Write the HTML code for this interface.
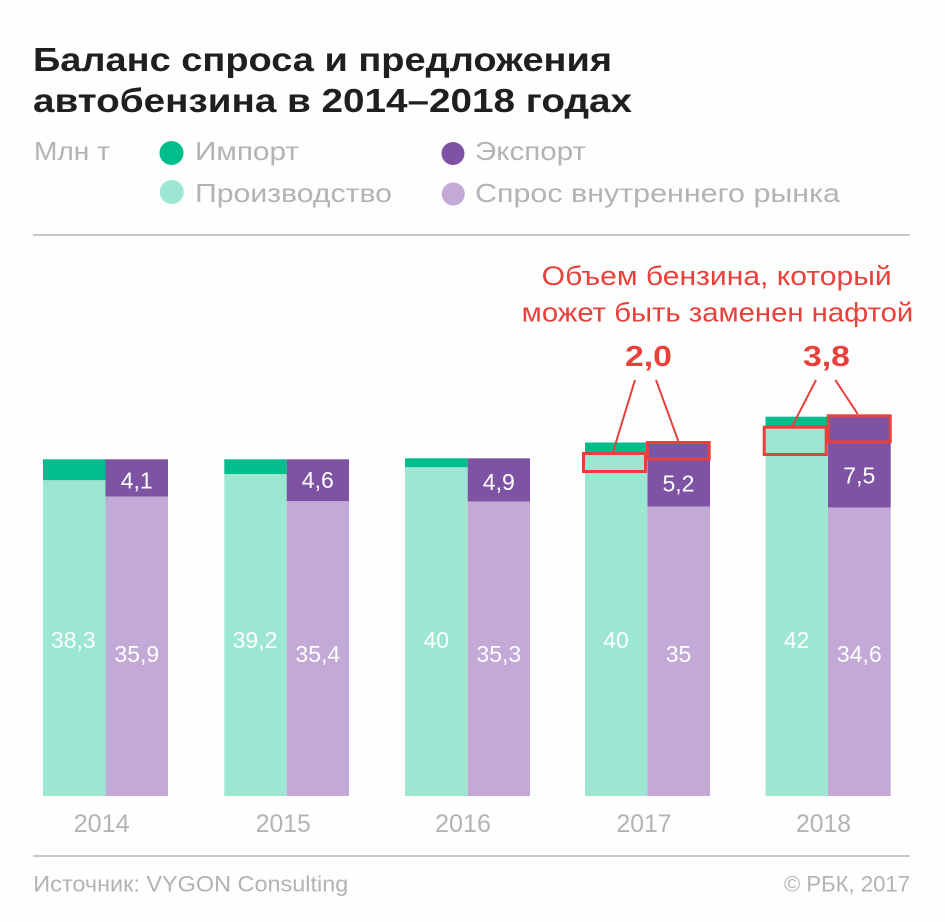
<!DOCTYPE html>
<html>
<head>
<meta charset="utf-8">
<style>
  html,body{margin:0;padding:0;background:#fefefe;}
  svg{display:block;}
  text{font-family:"Liberation Sans","Noto Sans CJK SC",sans-serif;}
</style>
</head>
<body>
<svg width="945" height="922" viewBox="0 0 945 922" xmlns="http://www.w3.org/2000/svg">
  <rect x="0" y="0" width="945" height="922" fill="#fefefe"/>

  <!-- Title -->
  <text x="33" y="71" font-size="33" font-weight="bold" fill="#1f1f1f" textLength="579" lengthAdjust="spacingAndGlyphs">Баланс спроса и предложения</text>
  <text x="33" y="112" font-size="33" font-weight="bold" fill="#1f1f1f" textLength="599" lengthAdjust="spacingAndGlyphs">автобензина в 2014–2018 годах</text>

  <!-- Legend -->
  <g font-size="26" fill="#b3b3b3">
    <text x="34" y="160" textLength="76" lengthAdjust="spacingAndGlyphs">Млн т</text>
    <circle cx="171.5" cy="153" r="12" fill="#00be8b"/>
    <text x="195" y="160" textLength="104" lengthAdjust="spacingAndGlyphs">Импорт</text>
    <circle cx="453" cy="153.5" r="11.5" fill="#7f53a4"/>
    <text x="475" y="160" textLength="111" lengthAdjust="spacingAndGlyphs">Экспорт</text>
    <circle cx="171.8" cy="192" r="12" fill="#9ce6d2"/>
    <text x="195" y="202" textLength="197" lengthAdjust="spacingAndGlyphs">Производство</text>
    <circle cx="453.3" cy="194" r="11.5" fill="#c2a9d6"/>
    <text x="475" y="202" textLength="365" lengthAdjust="spacingAndGlyphs">Спрос внутреннего рынка</text>
  </g>

  <rect x="33" y="234" width="877" height="2" fill="#c8c8c8"/>

  <!-- Annotation -->
  <text x="541.7" y="285" font-size="27" fill="#e8413c" textLength="350" lengthAdjust="spacingAndGlyphs">Объем бензина, который</text>
  <text x="521.7" y="321.7" font-size="27" fill="#e8413c" textLength="391.6" lengthAdjust="spacingAndGlyphs">может быть заменен нафтой</text>
  <text x="625" y="366" font-size="29" font-weight="bold" fill="#e8413c" textLength="47" lengthAdjust="spacingAndGlyphs">2,0</text>
  <text x="803" y="366" font-size="29" font-weight="bold" fill="#e8413c" textLength="47" lengthAdjust="spacingAndGlyphs">3,8</text>

  <!-- Bars 2014 -->
  <rect x="43" y="459.3" width="62.5" height="21" fill="#00be8b"/>
  <rect x="43" y="480.3" width="62.5" height="315.7" fill="#9ce6d2"/>
  <rect x="105.5" y="459.3" width="62.5" height="37.4" fill="#7f53a4"/>
  <rect x="105.5" y="496.7" width="62.5" height="299.3" fill="#c2a9d6"/>

  <!-- Bars 2015 -->
  <rect x="224.3" y="459.3" width="62.4" height="14.7" fill="#00be8b"/>
  <rect x="224.3" y="474" width="62.4" height="322" fill="#9ce6d2"/>
  <rect x="286.7" y="459.3" width="62.3" height="42" fill="#7f53a4"/>
  <rect x="286.7" y="501.3" width="62.3" height="294.7" fill="#c2a9d6"/>

  <!-- Bars 2016 -->
  <rect x="405" y="458.3" width="62.7" height="9" fill="#00be8b"/>
  <rect x="405" y="467.3" width="62.7" height="328.7" fill="#9ce6d2"/>
  <rect x="467.7" y="458.3" width="62.3" height="43.4" fill="#7f53a4"/>
  <rect x="467.7" y="501.7" width="62.3" height="294.3" fill="#c2a9d6"/>

  <!-- Bars 2017 -->
  <rect x="585" y="442.5" width="62.5" height="11" fill="#00be8b"/>
  <rect x="585" y="453.5" width="62.5" height="342.5" fill="#9ce6d2"/>
  <rect x="647.5" y="442.5" width="62.5" height="64" fill="#7f53a4"/>
  <rect x="647.5" y="506.5" width="62.5" height="289.5" fill="#c2a9d6"/>

  <!-- Bars 2018 -->
  <rect x="765.5" y="416.7" width="62.5" height="11" fill="#00be8b"/>
  <rect x="765.5" y="427.7" width="62.5" height="368.3" fill="#9ce6d2"/>
  <rect x="828" y="416" width="62.7" height="91.7" fill="#7f53a4"/>
  <rect x="828" y="507.7" width="62.7" height="288.3" fill="#c2a9d6"/>

  <!-- Red highlight boxes -->
  <g fill="none" stroke="#e8413c" stroke-width="3">
    <rect x="583.5" y="453.5" width="62" height="18"/>
    <rect x="647.5" y="442.5" width="61.7" height="16.7"/>
    <rect x="764.2" y="427.2" width="62" height="27.3"/>
    <rect x="828.2" y="415.8" width="62" height="26"/>
  </g>
  <g stroke="#e8413c" stroke-width="2">
    <line x1="635" y1="380" x2="613" y2="452"/>
    <line x1="656" y1="380" x2="678.3" y2="441"/>
    <line x1="816" y1="380" x2="792.3" y2="426"/>
    <line x1="835.3" y1="380" x2="857.7" y2="414"/>
  </g>

  <!-- Value labels -->
  <g font-size="23" fill="#ffffff" text-anchor="middle">
    <text x="73.3" y="648">38,3</text>
    <text x="255" y="648">39,2</text>
    <text x="436.3" y="648">40</text>
    <text x="616" y="648">40</text>
    <text x="796.7" y="648">42</text>

    <text x="136.8" y="662">35,9</text>
    <text x="317.8" y="662">35,4</text>
    <text x="498.8" y="662">35,3</text>
    <text x="678.5" y="662">35</text>
    <text x="859.3" y="662">34,6</text>

    <text x="136.7" y="488.3">4,1</text>
    <text x="317.8" y="488">4,6</text>
    <text x="498.8" y="490">4,9</text>
    <text x="678.5" y="491.5">5,2</text>
    <text x="859.3" y="483.3">7,5</text>
  </g>

  <!-- Year labels -->
  <g font-size="25" fill="#b3b3b3" text-anchor="middle">
    <text x="101.7" y="832" textLength="56" lengthAdjust="spacingAndGlyphs">2014</text>
    <text x="283.3" y="832" textLength="55" lengthAdjust="spacingAndGlyphs">2015</text>
    <text x="463" y="832" textLength="56" lengthAdjust="spacingAndGlyphs">2016</text>
    <text x="644" y="832" textLength="55" lengthAdjust="spacingAndGlyphs">2017</text>
    <text x="823.5" y="832" textLength="55" lengthAdjust="spacingAndGlyphs">2018</text>
  </g>

  <rect x="33" y="855" width="877" height="2" fill="#c8c8c8"/>

  <!-- Footer -->
  <text x="33.3" y="891.5" font-size="22" fill="#b3b3b3" textLength="315" lengthAdjust="spacingAndGlyphs">Источник: VYGON Consulting</text>
  <text x="910" y="891.5" font-size="22" fill="#b3b3b3" text-anchor="end" textLength="126" lengthAdjust="spacingAndGlyphs">© РБК, 2017</text>
</svg>
</body>
</html>
